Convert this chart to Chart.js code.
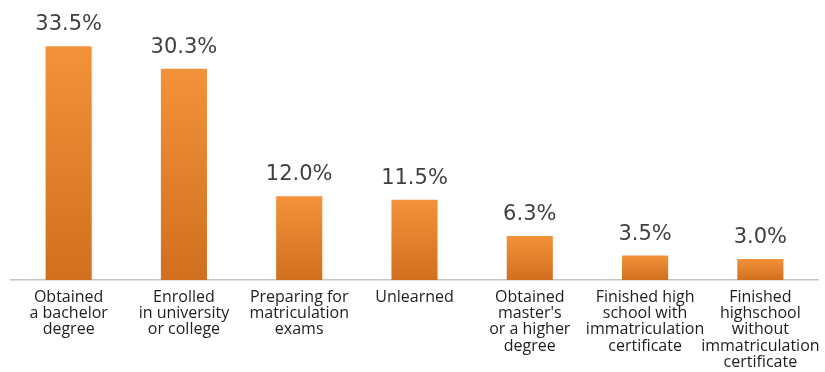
<!DOCTYPE html>
<html>
<head>
<meta charset="utf-8">
<script src="https://cdn.jsdelivr.net/npm/chart.js@4.4.1/dist/chart.umd.min.js"></script>
<style>
  html, body { margin: 0; padding: 0; background: #fff; }
  #wrap { width: 825px; height: 372px; }
</style>
</head>
<body>
<div id="wrap"><canvas id="bar-chart"></canvas></div>
<script>
const categories = [
  ['Obtained', 'a bachelor', 'degree'],
  ['Enrolled', 'in university', 'or college'],
  ['Preparing for', 'matriculation', 'exams'],
  ['Unlearned'],
  ['Obtained', "master's", 'or a higher', 'degree'],
  ['Finished high', 'school with', 'immatriculation', 'certificate'],
  ['Finished', 'highschool', 'without', 'immatriculation', 'certificate']
];
const shares = [33.5, 30.3, 12.0, 11.5, 6.3, 3.5, 3.0];

// orange bars, lighter at the top and darker at the base
function barFill(ctx) {
  const chart = ctx.chart;
  if (!chart.chartArea || ctx.parsed === undefined) return '#E8822D';
  const y = chart.scales.y;
  const top = y.getPixelForValue(ctx.parsed.y);
  const base = y.getPixelForValue(0);
  const g = chart.ctx.createLinearGradient(0, top, 0, base);
  g.addColorStop(0, '#F3923A');
  g.addColorStop(1, '#D0701F');
  return g;
}

// percentage written above each bar
const valueLabels = {
  id: 'valueLabels',
  afterDatasetsDraw(chart) {
    const c = chart.ctx;
    c.save();
    c.font = '21px "DejaVu Sans"';
    c.fillStyle = '#3f3f3f';
    c.textAlign = 'center';
    c.textBaseline = 'alphabetic';
    chart.getDatasetMeta(0).data.forEach((bar, i) => {
      c.fillText(shares[i].toFixed(1) + '%', bar.x, bar.y - 16);
    });
    c.restore();
  }
};

new Chart(document.getElementById('bar-chart'), {
  type: 'bar',
  data: {
    labels: categories,
    datasets: [{
      data: shares,
      backgroundColor: barFill,
      barPercentage: 0.4,
      categoryPercentage: 1.0
    }]
  },
  options: {
    responsive: true,
    maintainAspectRatio: false,
    animation: false,
    layout: { padding: { top: 1, left: 11, right: 7, bottom: 0 } },
    plugins: { legend: { display: false }, tooltip: { enabled: false } },
    scales: {
      y: { display: false, min: 0, max: 40 },
      x: {
        grid: { display: false, drawTicks: false },
        border: { display: true, color: '#c4c4c4', width: 1.5 },
        ticks: {
          autoSkip: false,
          maxRotation: 0,
          padding: 9,
          color: '#1e1e1e',
          font: { family: '"Open Sans"', size: 16, lineHeight: 1.02 }
        },
        afterFit(scale) {
          // keep the long last label from squeezing the plot
          scale.height = 92;
          scale.paddingLeft = 0;
          scale.paddingRight = 0;
        }
      }
    }
  },
  plugins: [valueLabels]
});
</script>
</body>
</html>
